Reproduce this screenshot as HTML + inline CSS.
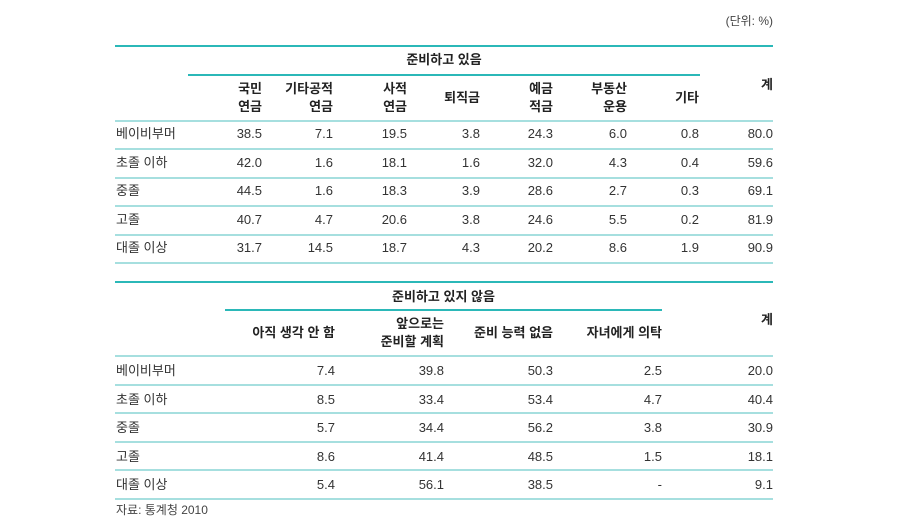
<!DOCTYPE html>
<html><head><meta charset="utf-8"><style>
body{margin:0;width:907px;height:527px;background:#fff;position:relative;overflow:hidden;font-family:"Liberation Sans","Noto Sans CJK KR",sans-serif;font-size:13px;color:#333}
.t{position:absolute;line-height:18px;white-space:nowrap}
.r{text-align:right}
.h{font-weight:bold;color:#222}
.l{position:absolute;height:2px;background:#2bb8b8}
.s{position:absolute;height:2px;background:#a6dfdf}
</style></head><body>
<div class="t r" style="right:134px;top:12px;font-size:12px;color:#444">(단위: %)</div>

<div class="l" style="left:115px;width:658px;top:45px"></div>
<div class="t h" style="left:188px;width:512px;text-align:center;top:51px">준비하고 있음</div>
<div class="l" style="left:188px;width:512px;top:74px"></div>
<div class="t h r" style="right:645px;top:80px">국민<br>연금</div>
<div class="t h r" style="right:574px;top:80px">기타공적<br>연금</div>
<div class="t h r" style="right:500px;top:80px">사적<br>연금</div>
<div class="t h r" style="right:427px;top:89px">퇴직금</div>
<div class="t h r" style="right:354px;top:80px">예금<br>적금</div>
<div class="t h r" style="right:280px;top:80px">부동산<br>운용</div>
<div class="t h r" style="right:208px;top:89px">기타</div>
<div class="t h r" style="right:134px;top:76px">계</div>
<div class="s" style="left:115px;width:658px;top:120px"></div>

<div class="t" style="left:116px;top:120px;line-height:28.5px">베이비부머<br>초졸 이하<br>중졸<br>고졸<br>대졸 이상</div>
<div class="t r" style="right:645px;top:120px;line-height:28.5px">38.5<br>42.0<br>44.5<br>40.7<br>31.7</div>
<div class="t r" style="right:574px;top:120px;line-height:28.5px">7.1<br>1.6<br>1.6<br>4.7<br>14.5</div>
<div class="t r" style="right:500px;top:120px;line-height:28.5px">19.5<br>18.1<br>18.3<br>20.6<br>18.7</div>
<div class="t r" style="right:427px;top:120px;line-height:28.5px">3.8<br>1.6<br>3.9<br>3.8<br>4.3</div>
<div class="t r" style="right:354px;top:120px;line-height:28.5px">24.3<br>32.0<br>28.6<br>24.6<br>20.2</div>
<div class="t r" style="right:280px;top:120px;line-height:28.5px">6.0<br>4.3<br>2.7<br>5.5<br>8.6</div>
<div class="t r" style="right:208px;top:120px;line-height:28.5px">0.8<br>0.4<br>0.3<br>0.2<br>1.9</div>
<div class="t r" style="right:134px;top:120px;line-height:28.5px">80.0<br>59.6<br>69.1<br>81.9<br>90.9</div>

<div class="s" style="left:115px;width:658px;top:148px"></div>
<div class="s" style="left:115px;width:658px;top:177px"></div>
<div class="s" style="left:115px;width:658px;top:205px"></div>
<div class="s" style="left:115px;width:658px;top:234px"></div>
<div class="s" style="left:115px;width:658px;top:262px"></div>

<div class="l" style="left:115px;width:658px;top:281px"></div>
<div class="t h" style="left:225px;width:437px;text-align:center;top:288px">준비하고 있지 않음</div>
<div class="l" style="left:225px;width:437px;top:309px"></div>
<div class="t h r" style="right:572px;top:324px">아직 생각 안 함</div>
<div class="t h r" style="right:463px;top:315px">앞으로는<br>준비할 계획</div>
<div class="t h r" style="right:354px;top:324px">준비 능력 없음</div>
<div class="t h r" style="right:245px;top:324px">자녀에게 의탁</div>
<div class="t h r" style="right:134px;top:311px">계</div>
<div class="s" style="left:115px;width:658px;top:355px"></div>

<div class="t" style="left:116px;top:357px;line-height:28.5px">베이비부머<br>초졸 이하<br>중졸<br>고졸<br>대졸 이상</div>
<div class="t r" style="right:572px;top:357px;line-height:28.5px">7.4<br>8.5<br>5.7<br>8.6<br>5.4</div>
<div class="t r" style="right:463px;top:357px;line-height:28.5px">39.8<br>33.4<br>34.4<br>41.4<br>56.1</div>
<div class="t r" style="right:354px;top:357px;line-height:28.5px">50.3<br>53.4<br>56.2<br>48.5<br>38.5</div>
<div class="t r" style="right:245px;top:357px;line-height:28.5px">2.5<br>4.7<br>3.8<br>1.5<br>-</div>
<div class="t r" style="right:134px;top:357px;line-height:28.5px">20.0<br>40.4<br>30.9<br>18.1<br>9.1</div>

<div class="s" style="left:115px;width:658px;top:384px"></div>
<div class="s" style="left:115px;width:658px;top:412px"></div>
<div class="s" style="left:115px;width:658px;top:441px"></div>
<div class="s" style="left:115px;width:658px;top:469px"></div>
<div class="s" style="left:115px;width:658px;top:498px"></div>

<div class="t" style="left:116px;top:501px;font-size:12px;color:#444">자료: 통계청 2010</div>
</body></html>
